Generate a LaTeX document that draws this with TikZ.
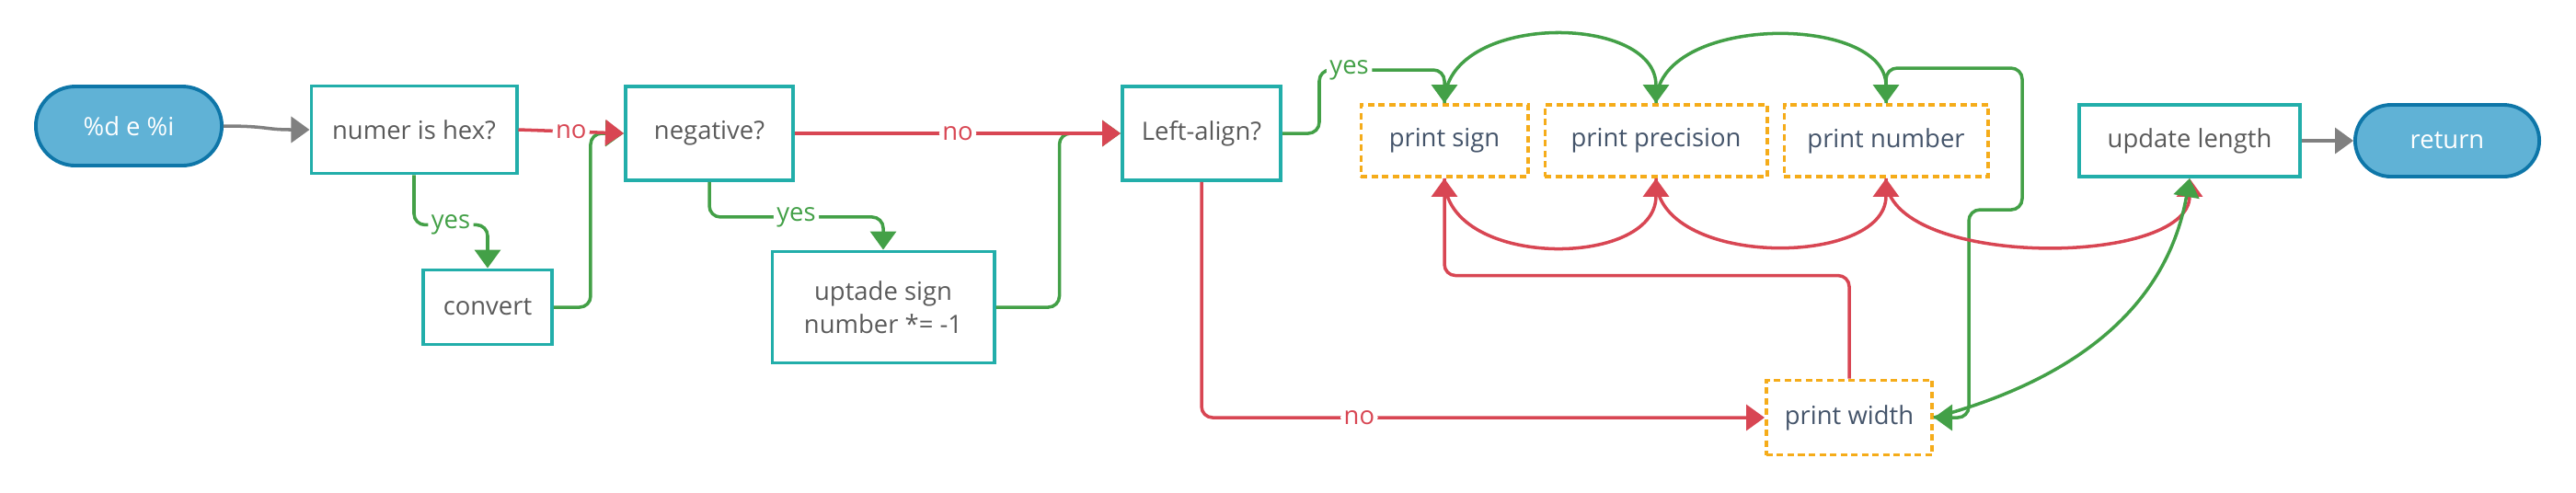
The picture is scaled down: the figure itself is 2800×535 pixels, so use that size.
\documentclass[tikz,border=0pt]{standalone}
\usepackage{fontspec}
\setmainfont{Open Sans}
\usetikzlibrary{arrows.meta}
\definecolor{tealbox}{RGB}{34,174,170}
\definecolor{orangebox}{RGB}{245,172,26}
\definecolor{redline}{RGB}{216,70,83}
\definecolor{greenline}{RGB}{67,160,71}
\definecolor{grayline}{RGB}{128,128,128}
\definecolor{termfill}{RGB}{96,178,214}
\definecolor{termdraw}{RGB}{14,118,168}
\definecolor{boxtext}{RGB}{90,90,90}
\definecolor{dashtext}{RGB}{68,84,106}
\begin{document}
\begin{tikzpicture}[x=0.01cm,y=-0.01cm,font=\fontsize{7.8}{10.4}\selectfont,
	term/.style={draw=termdraw,fill=termfill,line width=1.1pt,text=white,minimum height=0.78cm},
	task/.style={draw=tealbox,line width=1.1pt,text=boxtext,align=center},
	sub/.style={draw=orangebox,line width=1.1pt,dash pattern=on 0.07cm off 0.045cm,text=dashtext,minimum height=0.78cm},
	tip/.style={-{Triangle[length=0.2cm,width=0.28cm]}},
	gline/.style={draw=grayline,line width=1pt,tip},
	gpath/.style={draw=greenline,line width=1pt,rounded corners=0.12cm,tip},
	rpath/.style={draw=redline,line width=1pt,rounded corners=0.12cm,tip},
	yeslbl/.style={fill=white,text=greenline,inner sep=1pt},
	nolbl/.style={fill=white,text=redline,inner sep=1pt}]
	\useasboundingbox (0,0) rectangle (2800,535);
	\node[term,minimum width=2.02cm,minimum height=0.86cm,rounded corners=0.43cm] (start) at (140,137) {\%d e \%i};
	\node[task,minimum width=2.23cm,minimum height=0.95cm] (hex) at (450,141) {numer is hex?};
	\node[task,minimum width=1.40cm,minimum height=0.81cm] (conv) at (530,334) {convert};
	\node[task,minimum width=1.82cm,minimum height=1.02cm] (neg) at (771,145) {negative?};
	\node[task,minimum width=2.41cm,minimum height=1.21cm] (upd) at (960,334) {uptade sign\\number *= -1};
	\node[task,minimum width=1.72cm,minimum height=1.02cm] (left) at (1306,145) {Left-align?};
	\node[sub,minimum width=1.81cm] (sign) at (1570,153) {print sign};
	\node[sub,minimum width=2.41cm] (prec) at (1800,153) {print precision};
	\node[sub,minimum width=2.21cm] (num) at (2050,153) {print number};
	\node[task,minimum width=2.40cm,minimum height=0.78cm] (len) at (2380,153) {update length};
	\node[term,minimum width=2.00cm,rounded corners=0.39cm] (ret) at (2660,153) {return};
	\node[sub,minimum width=1.80cm,minimum height=0.81cm] (width) at (2010,454) {print width};
	\draw[gline] (start.east) .. controls +(50,0) and +(-50,0) .. (hex.west);% entry
	\draw[gpath] (conv.east) -- ++(40,0) |- (neg.west);% back from convert
	\draw[rpath] (hex.east) -- node[nolbl] {no} (neg.west);% not hex
	\draw[gpath] (hex.south) -- ++(0,54) -| node[pos=0.25,yeslbl] {yes} (conv.north);% hex
	\draw[gpath] (upd.east) -- ++(69,0) |- (left.west);% back from sign
	\draw[rpath] (neg.east) -- node[nolbl] {no} (left.west);% positive
	\draw[gpath] (neg.south) -- ++(0,38) -| node[pos=0.25,yeslbl] {yes} (upd.north);% negative
	\draw[gpath] (left.east) -| ++(40,-69) -| node[pos=0.12,yeslbl] {yes} (sign.north);% left align
	\draw[rpath] (left.south) |- node[pos=0.64,nolbl] {no} (width.west);% right align
	\draw[gpath] (sign.north) to[out=90,in=90,looseness=1.1] (prec.north);
	\draw[gpath] (prec.north) to[out=90,in=90,looseness=1.0] (num.north);
	\draw[gpath] (num.north) -- ++(0,-38) -| ++(148,154) -- ++(-58,0) |- (width.east);% padding last
	\draw[rpath] (width.north) -- ++(0,-112) -| (sign.south);% padding first
	\draw[rpath] (sign.south) to[out=-90,in=-90,looseness=1.1] (prec.south);
	\draw[rpath] (prec.south) to[out=-90,in=-90,looseness=1.0] (num.south);
	\draw[rpath] (num.south) to[out=-90,in=-90,looseness=0.76] (len.south);
	\draw[gpath] (width.east) to[out=15,in=-100] (len.south);
	\draw[gline] (len.east) -- (ret.west);% exit
\end{tikzpicture}
\end{document}
